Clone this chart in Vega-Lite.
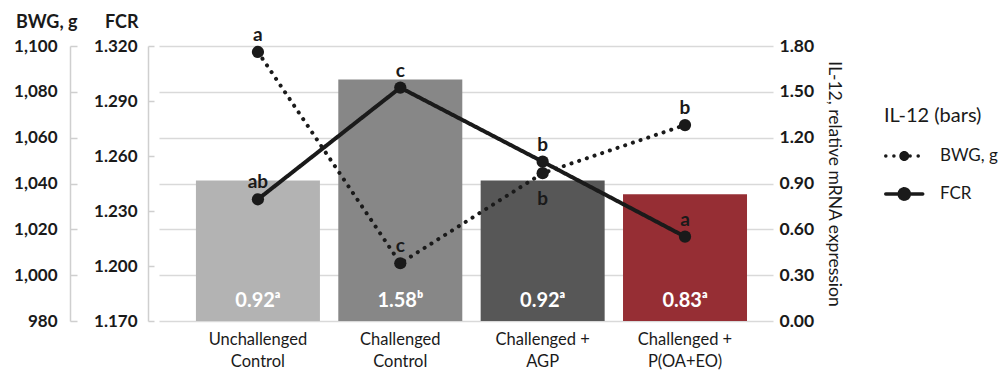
{
  "$schema": "https://vega.github.io/schema/vega-lite/v6.json",
  "width": 614,
  "height": 275,
  "autosize": "none",
  "padding": {"left": 159, "top": 46, "right": 226, "bottom": 56},
  "data": {
    "values": [
      {"group": "Unchallenged|Control", "il12": 0.92, "il12lab": "0.92ᵃ", "bwg": 1097.4, "bwgL": "a", "bwgPos": "above", "fcr": 1.2364, "fcrL": "ab"},
      {"group": "Challenged|Control", "il12": 1.58, "il12lab": "1.58ᵇ", "bwg": 1005.2, "bwgL": "c", "bwgPos": "above", "fcr": 1.2973, "fcrL": "c"},
      {"group": "Challenged +|AGP", "il12": 0.92, "il12lab": "0.92ᵃ", "bwg": 1044.5, "bwgL": "b", "bwgPos": "below", "fcr": 1.2569, "fcrL": "b"},
      {"group": "Challenged +|P(OA+EO)", "il12": 0.83, "il12lab": "0.83ᵃ", "bwg": 1065.5, "bwgL": "b", "bwgPos": "above", "fcr": 1.216, "fcrL": "a"}
    ]
  },
  "config": {
    "view": {"stroke": null},
    "font": "Lato",
    "axis": {
      "labelFont": "Lato",
      "labelFontSize": 17,
      "labelFontWeight": "bold",
      "labelColor": "#1a1a1a",
      "titleFont": "Lato",
      "titleColor": "#1a1a1a",
      "domainColor": "#cfcfcf",
      "tickColor": "#cfcfcf",
      "gridColor": "#d9d9d9"
    }
  },
  "encoding": {
    "x": {
      "field": "group",
      "type": "nominal",
      "sort": null,
      "scale": {"paddingInner": 0.129, "paddingOuter": 0.221, "align": 0.587},
      "axis": {
        "orient": "bottom",
        "domain": false,
        "ticks": false,
        "grid": false,
        "labelPadding": 10,
        "labelFontWeight": "normal",
        "labelFontSize": 16.5,
        "labelLineHeight": 22,
        "labelAngle": 0,
        "labelExpr": "split(datum.label, '|')",
        "title": null
      }
    }
  },
  "layer": [
    {
      "layer": [
        {
          "mark": {"type": "bar"},
          "encoding": {
            "y": {
              "field": "il12",
              "type": "quantitative",
              "scale": {"domain": [0, 1.8], "nice": false},
              "axis": {
                "orient": "right",
                "values": [0, 0.3, 0.6, 0.9, 1.2, 1.5, 1.8],
                "format": ".2f",
                "domain": false,
                "ticks": false,
                "grid": true,
                "gridWidth": 1.5,
                "labelPadding": 6,
                "labelFontSize": 17.5,
                "title": "IL-12, relative mRNA expression",
                "titleAngle": 90,
                "titleFontSize": 17.5,
                "titleFontWeight": "normal",
                "titlePadding": 11
              }
            },
            "color": {
              "field": "group",
              "type": "nominal",
              "scale": {
                "domain": ["Unchallenged|Control", "Challenged|Control", "Challenged +|AGP", "Challenged +|P(OA+EO)"],
                "range": ["#b3b3b3", "#878787", "#575757", "#962e34"]
              },
              "legend": null
            }
          }
        },
        {
          "mark": {"type": "text", "font": "Lato", "fontSize": 20, "fontWeight": "bold", "color": "white", "baseline": "alphabetic", "dy": -14},
          "encoding": {
            "y": {"datum": 0, "type": "quantitative"},
            "text": {"field": "il12lab"}
          }
        }
      ]
    },
    {
      "layer": [
        {
          "mark": {"type": "line", "color": "#1a1a1a", "strokeWidth": 4, "strokeCap": "round", "point": {"filled": true, "size": 150, "color": "#1a1a1a"}},
          "encoding": {
            "y": {
              "field": "bwg",
              "type": "quantitative",
              "scale": {"domain": [980, 1100], "nice": false},
              "axis": {
                "orient": "left",
                "offset": 89,
                "values": [980, 1000, 1020, 1040, 1060, 1080, 1100],
                "format": ",d",
                "grid": false,
                "tickSize": -7,
                "tickWidth": 1.5,
                "domainWidth": 1.5,
                "labelPadding": 20,
                "title": "BWG, g",
                "titleAngle": 0,
                "titleAlign": "right",
                "titleBaseline": "alphabetic",
                "titleX": 7,
                "titleY": -19,
                "titleFontSize": 18,
                "titleFontWeight": "bold"
              }
            },
            "strokeDash": {
              "datum": "BWG, g",
              "type": "nominal",
              "scale": {"domain": ["BWG, g", "FCR"], "range": [[0.1, 8], [1, 0]]},
              "legend": {
                "title": "IL-12  (bars)",
                "orient": "none",
                "legendX": 725,
                "legendY": 60,
                "symbolType": "M-1,0H3M1.27,0L1.54,0A0.54,0.54 0 0,1 1.4369,0.3174L1,0ZM1.2184,0.1587L1.4369,0.3174A0.54,0.54 0 0,1 1.1669,0.5136L1,0ZM1.0834,0.2568L1.1669,0.5136A0.54,0.54 0 0,1 0.8331,0.5136L1,0ZM0.9166,0.2568L0.8331,0.5136A0.54,0.54 0 0,1 0.5631,0.3174L1,0ZM0.7816,0.1587L0.5631,0.3174A0.54,0.54 0 0,1 0.46,0L1,0ZM0.73,0L0.46,0A0.54,0.54 0 0,1 0.5631,-0.3174L1,0ZM0.7816,-0.1587L0.5631,-0.3174A0.54,0.54 0 0,1 0.8331,-0.5136L1,0ZM0.9166,-0.2568L0.8331,-0.5136A0.54,0.54 0 0,1 1.1669,-0.5136L1,0ZM1.0834,-0.2568L1.1669,-0.5136A0.54,0.54 0 0,1 1.4369,-0.3174L1,0ZM1.2184,-0.1587L1.4369,-0.3174A0.54,0.54 0 0,1 1.54,0L1,0Z",
                "symbolSize": 342,
                "symbolStrokeWidth": 3.5,
                "symbolStrokeColor": "#1a1a1a",
                "symbolFillColor": "#1a1a1a",
                "labelFont": "Lato",
                "labelFontSize": 17,
                "labelColor": "#1a1a1a",
                "titleFont": "Lato",
                "titleFontSize": 20,
                "titleFontWeight": "normal",
                "titleColor": "#1a1a1a",
                "titlePadding": 19,
                "labelOffset": 34,
                "rowPadding": 14,
                "encode": {
                  "symbols": {
                    "update": {
                      "fill": {"value": "#1a1a1a"},
                      "stroke": {"value": "#1a1a1a"},
                      "strokeWidth": {"value": 3.5},
                      "strokeCap": {"value": "round"}
                    }
                  }
                }
              }
            }
          }
        },
        {
          "transform": [{"filter": "datum.bwgPos == 'above'"}],
          "mark": {"type": "text", "font": "Lato", "fontSize": 19, "fontWeight": "bold", "color": "#1a1a1a", "baseline": "alphabetic", "dy": -11},
          "encoding": {
            "y": {"field": "bwg", "type": "quantitative"},
            "text": {"field": "bwgL"}
          }
        },
        {
          "transform": [{"filter": "datum.bwgPos == 'below'"}],
          "mark": {"type": "text", "font": "Lato", "fontSize": 19, "fontWeight": "bold", "color": "#1a1a1a", "baseline": "alphabetic", "dy": 32},
          "encoding": {
            "y": {"field": "bwg", "type": "quantitative"},
            "text": {"field": "bwgL"}
          }
        }
      ]
    },
    {
      "layer": [
        {
          "mark": {"type": "line", "color": "#1a1a1a", "strokeWidth": 4, "strokeCap": "round", "point": {"filled": true, "size": 150, "color": "#1a1a1a"}},
          "encoding": {
            "y": {
              "field": "fcr",
              "type": "quantitative",
              "scale": {"domain": [1.17, 1.32], "nice": false},
              "axis": {
                "orient": "left",
                "offset": 11,
                "values": [1.17, 1.2, 1.23, 1.26, 1.29, 1.32],
                "format": ".3f",
                "grid": false,
                "tickSize": -6,
                "tickWidth": 1.5,
                "domainWidth": 1.5,
                "labelPadding": 17,
                "title": "FCR",
                "titleAngle": 0,
                "titleAlign": "right",
                "titleBaseline": "alphabetic",
                "titleX": -10,
                "titleY": -19,
                "titleFontSize": 18,
                "titleFontWeight": "bold"
              }
            },
            "strokeDash": {"datum": "FCR", "type": "nominal"}
          }
        },
        {
          "mark": {"type": "text", "font": "Lato", "fontSize": 19, "fontWeight": "bold", "color": "#1a1a1a", "baseline": "alphabetic", "dy": -11},
          "encoding": {
            "y": {"field": "fcr", "type": "quantitative"},
            "text": {"field": "fcrL"}
          }
        }
      ]
    }
  ],
  "resolve": {"scale": {"y": "independent"}, "axis": {"y": "independent"}}
}
